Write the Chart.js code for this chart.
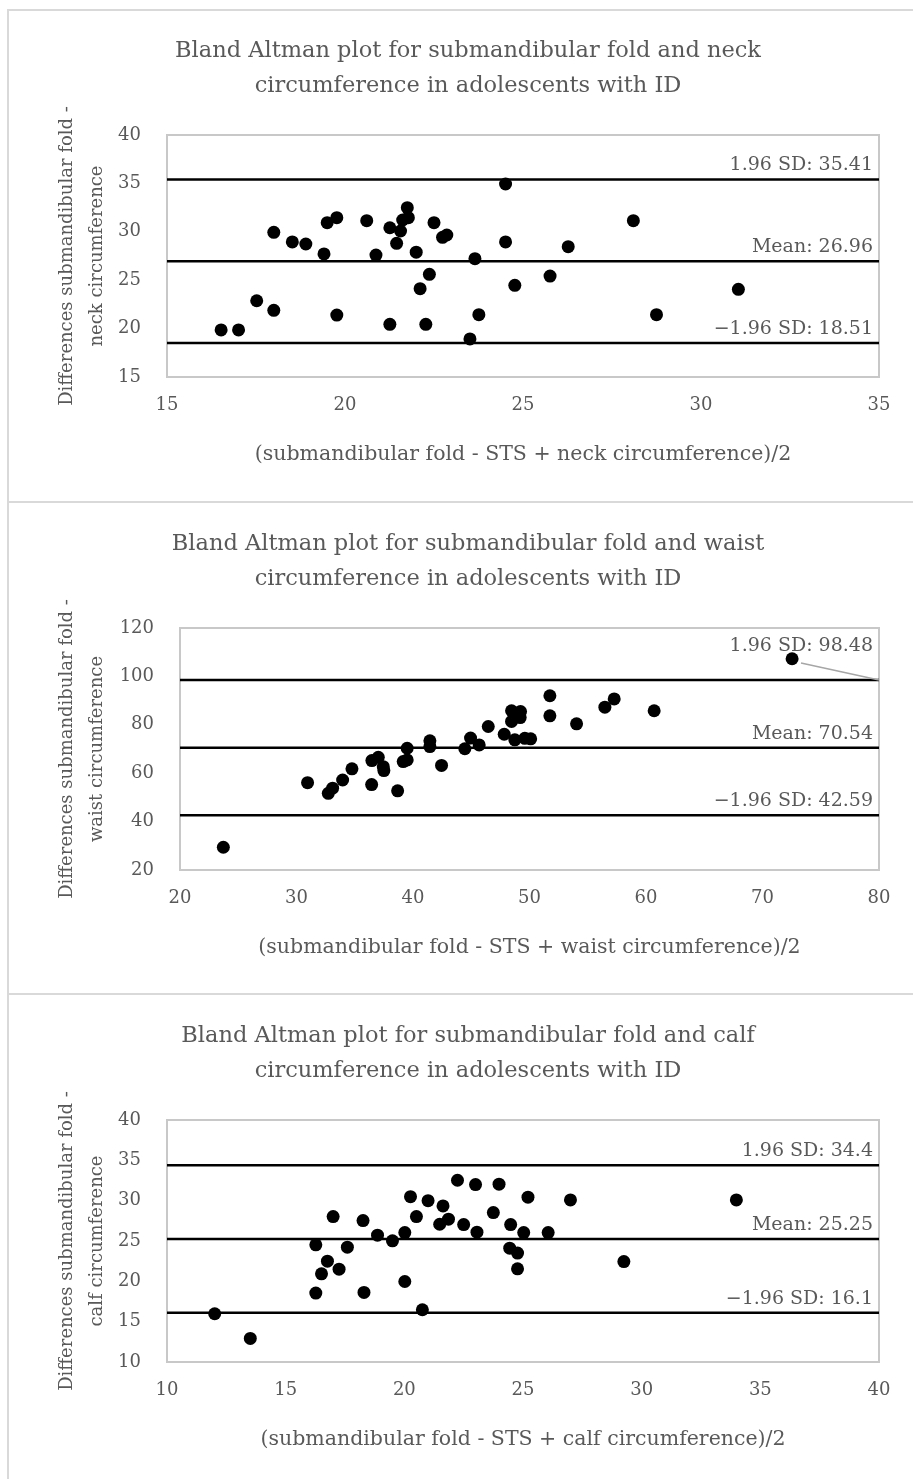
<!DOCTYPE html>
<html>
<head>
<meta charset="utf-8">
<title>Bland Altman plots</title>
<script src="https://cdn.jsdelivr.net/npm/chart.js@4.4.1/dist/chart.umd.min.js"></script>
<style>
    body { margin: 0; width: 913px; height: 1479px; overflow: hidden; background: #fff; position: relative; }
    .frame { position: absolute; left: 7px; width: 930px; height: 494px; border: 2px solid #d9d9d9; box-sizing: border-box; }
    .chart-box { position: absolute; left: 0; width: 913px; height: 492px; }
</style>
</head>
<body>
<div class="frame" style="top:9px"></div>
<div class="frame" style="top:501px"></div>
<div class="frame" style="top:993px"></div>
<div class="chart-box" style="top:9px"><canvas id="neckChart"></canvas></div>
<div class="chart-box" style="top:501px"><canvas id="waistChart"></canvas></div>
<div class="chart-box" style="top:993px"><canvas id="calfChart"></canvas></div>

<script>
// Neck circumference
const neckAvg = [16.52, 17.01, 17.52, 18.0, 18.0, 18.52, 18.9, 19.41, 19.5, 19.77, 19.77, 20.61, 20.87, 21.26, 21.26, 21.75, 21.62, 21.78, 21.56, 21.45,
    22.0, 22.11, 22.27, 22.37, 22.5, 22.74, 22.86, 23.51, 23.65, 23.76, 24.51, 24.51, 24.77, 25.76, 26.27, 28.1, 28.75, 31.05];
const neckDiff = [19.86, 19.86, 22.88, 21.89, 29.95, 28.95, 28.74, 27.71, 30.94, 31.46, 21.4, 31.15, 27.6, 20.44, 30.42, 32.49, 31.22, 31.46, 30.08, 28.81,
    27.9, 24.12, 20.44, 25.61, 30.94, 29.43, 29.67, 18.93, 27.22, 21.44, 34.94, 28.95, 24.47, 25.43, 28.46, 31.15, 21.44, 24.06];
const neckXTicks = [15, 20, 25, 30, 35];
const neckYTicks = [15, 20, 25, 30, 35, 40];
const neckLimits = [35.41, 26.96, 18.51];
const neckLimitText = ['1.96 SD: 35.41', 'Mean: 26.96', '\u22121.96 SD: 18.51'];

// Waist circumference
const waistAvg = [23.72, 30.95, 32.73, 33.1, 33.96, 34.76, 36.45, 36.47, 37.02, 37.45, 37.5, 38.68, 39.16, 39.5, 39.5, 41.45, 41.45, 42.45, 44.45,
    44.94, 45.68, 46.46, 47.83, 48.46, 49.23, 48.46, 49.2, 48.74, 49.6, 50.1, 51.75, 51.75, 54.04, 56.47, 57.27, 60.7, 72.54];
const waistDiff = [29.4, 56.1, 51.7, 53.8, 57.2, 61.8, 55.3, 65.2, 66.6, 62.7, 61.1, 52.7, 64.8, 65.5, 70.3, 73.4, 71.0, 63.2, 70.1,
    74.5, 71.7, 79.3, 76.1, 85.8, 85.5, 81.4, 83.0, 73.8, 74.4, 74.2, 92.0, 83.7, 80.4, 87.3, 90.7, 85.8, 107.3];
const waistXTicks = [20, 30, 40, 50, 60, 70, 80];
const waistYTicks = [20, 40, 60, 80, 100, 120];
const waistLimits = [98.48, 70.54, 42.59];
const waistLimitText = ['1.96 SD: 98.48', 'Mean: 70.54', '\u22121.96 SD: 42.59'];

// Calf circumference
const calfAvg = [12.01, 13.51, 16.27, 16.27, 16.51, 16.76, 17.0, 17.25, 17.6, 18.26, 18.3, 18.87, 19.5, 20.02, 20.02, 20.26, 20.51, 20.76, 21.0,
    21.49, 21.63, 21.86, 22.24, 22.5, 23.0, 23.06, 23.75, 23.99, 24.48, 24.44, 24.77, 24.77, 25.21, 25.03, 26.06, 27.0, 29.25, 33.99];
const calfDiff = [15.98, 12.92, 24.52, 18.54, 20.93, 22.5, 28.03, 21.51, 24.24, 27.53, 18.62, 25.72, 25.02, 26.05, 19.98, 30.5, 28.03, 16.48, 30.0,
    27.08, 29.35, 27.7, 32.53, 27.04, 31.99, 26.1, 28.52, 32.04, 27.04, 24.11, 23.5, 21.55, 30.43, 26.05, 26.05, 30.09, 22.45, 30.09];
const calfXTicks = [10, 15, 20, 25, 30, 35, 40];
const calfYTicks = [10, 15, 20, 25, 30, 35, 40];
const calfLimits = [34.4, 25.25, 16.1];
const calfLimitText = ['1.96 SD: 34.4', 'Mean: 25.25', '\u22121.96 SD: 16.1'];

const TEXT_GREY = '#595959';
const SERIF = "'DejaVu Serif', serif";

// Plot frame, chart title and the labels on the limit lines
const blandAltmanDecor = {
    id: 'blandAltmanDecor',
    beforeDatasetsDraw(chart) {
        const { ctx, chartArea } = chart;
        ctx.save();
        ctx.strokeStyle = '#c8c8c8';
        ctx.lineWidth = 2;
        ctx.strokeRect(chartArea.left, chartArea.top, chartArea.right - chartArea.left, chartArea.bottom - chartArea.top);
        ctx.restore();
    },
    afterDraw(chart, args, opts) {
        const { ctx, chartArea } = chart;
        const yScale = chart.scales.y;
        ctx.save();
        ctx.fillStyle = TEXT_GREY;

        // title
        ctx.font = '22.5px ' + SERIF;
        ctx.textAlign = 'center';
        ctx.textBaseline = 'middle';
        opts.title.forEach(function(line, i) {
            ctx.fillText(line, opts.titleX, chartArea.top - 84 + i * 35);
        });

        // limit labels
        ctx.font = '19px ' + SERIF;
        ctx.textAlign = 'right';
        opts.limits.forEach(function(value, i) {
            const y = yScale.getPixelForValue(value);
            const lift = opts.lift[i];
            ctx.fillText(opts.texts[i], chartArea.right - 6, y - lift);
            if (lift > 20) {
                // leader line from a moved label back to its line
                ctx.strokeStyle = '#a6a6a6';
                ctx.lineWidth = 1.5;
                ctx.beginPath();
                ctx.moveTo(chartArea.right - 78, y - 17);
                ctx.lineTo(chartArea.right, y);
                ctx.stroke();
            }
        });
        ctx.restore();
    }
};

document.addEventListener('DOMContentLoaded', function() {
    Chart.defaults.font.family = SERIF;
    Chart.defaults.color = TEXT_GREY;

    makeBlandAltman('neckChart', {
        avg: neckAvg, diff: neckDiff, xTicks: neckXTicks, yTicks: neckYTicks,
        limits: neckLimits, texts: neckLimitText, lift: [14, 14, 14],
        title: ['Bland Altman plot for submandibular fold and neck', 'circumference in adolescents with ID'],
        xTitle: '(submandibular fold - STS + neck circumference)/2',
        yTitle: ['Differences submandibular fold -', 'neck circumference'],
        yWidth: 167, top: 126, bottom: 24
    });

    makeBlandAltman('waistChart', {
        avg: waistAvg, diff: waistDiff, xTicks: waistXTicks, yTicks: waistYTicks,
        limits: waistLimits, texts: waistLimitText, lift: [34, 14, 14],
        title: ['Bland Altman plot for submandibular fold and waist', 'circumference in adolescents with ID'],
        xTitle: '(submandibular fold - STS + waist circumference)/2',
        yTitle: ['Differences submandibular fold -', 'waist circumference'],
        yWidth: 180, top: 127, bottom: 23
    });

    makeBlandAltman('calfChart', {
        avg: calfAvg, diff: calfDiff, xTicks: calfXTicks, yTicks: calfYTicks,
        limits: calfLimits, texts: calfLimitText, lift: [14, 14, 14],
        title: ['Bland Altman plot for submandibular fold and calf', 'circumference in adolescents with ID'],
        xTitle: '(submandibular fold - STS + calf circumference)/2',
        yTitle: ['Differences submandibular fold -', 'calf circumference'],
        yWidth: 167, top: 127, bottom: 23
    });
});

function makeBlandAltman(canvasId, cfg) {
    const ctx = document.getElementById(canvasId);
    if (!ctx) return;

    const xMin = cfg.xTicks[0];
    const xMax = cfg.xTicks[cfg.xTicks.length - 1];

    const points = cfg.avg.map((x, i) => ({ x: x, y: cfg.diff[i] }));
    const lineSets = cfg.limits.map(value => ({
        type: 'line',
        data: [{ x: xMin, y: value }, { x: xMax, y: value }],
        borderColor: '#000',
        borderWidth: 2.5,
        pointRadius: 0,
        fill: false
    }));

    return new Chart(ctx, {
        type: 'scatter',
        data: {
            datasets: [{
                label: 'Differences',
                data: points,
                backgroundColor: '#000',
                borderWidth: 0,
                pointRadius: 6.5
            }].concat(lineSets)
        },
        options: {
            responsive: true,
            maintainAspectRatio: false,
            animation: false,
            devicePixelRatio: 1,
            layout: {
                padding: { left: 0, right: 34, top: cfg.top, bottom: cfg.bottom }
            },
            plugins: {
                legend: { display: false },
                tooltip: { enabled: false },
                title: { display: false },
                blandAltmanDecor: {
                    title: cfg.title,
                    titleX: 468,
                    limits: cfg.limits,
                    texts: cfg.texts,
                    lift: cfg.lift
                }
            },
            scales: {
                x: {
                    type: 'linear',
                    min: xMin,
                    max: xMax,
                    grid: { display: false, drawTicks: false },
                    border: { display: false },
                    ticks: { padding: 18, font: { size: 18 }, color: TEXT_GREY },
                    afterBuildTicks: function(axis) {
                        axis.ticks = cfg.xTicks.map(v => ({ value: v }));
                    },
                    afterFit: function(axis) {
                        axis.height = 100;
                    },
                    title: {
                        display: true,
                        text: cfg.xTitle,
                        color: TEXT_GREY,
                        font: { size: 20.5, lineHeight: 1.2 },
                        padding: { top: 0, bottom: 10 }
                    }
                },
                y: {
                    type: 'linear',
                    min: cfg.yTicks[0],
                    max: cfg.yTicks[cfg.yTicks.length - 1],
                    grid: { display: false, drawTicks: false },
                    border: { display: false },
                    ticks: { padding: 26, font: { size: 18 }, color: TEXT_GREY },
                    afterBuildTicks: function(axis) {
                        axis.ticks = cfg.yTicks.map(v => ({ value: v }));
                    },
                    afterFit: function(axis) {
                        axis.width = cfg.yWidth;
                    },
                    title: {
                        display: true,
                        text: cfg.yTitle,
                        color: TEXT_GREY,
                        font: { size: 18, lineHeight: 1.69 },
                        padding: { top: 52, bottom: 0 }
                    }
                }
            }
        },
        plugins: [blandAltmanDecor]
    });
}
</script>
</body>
</html>
